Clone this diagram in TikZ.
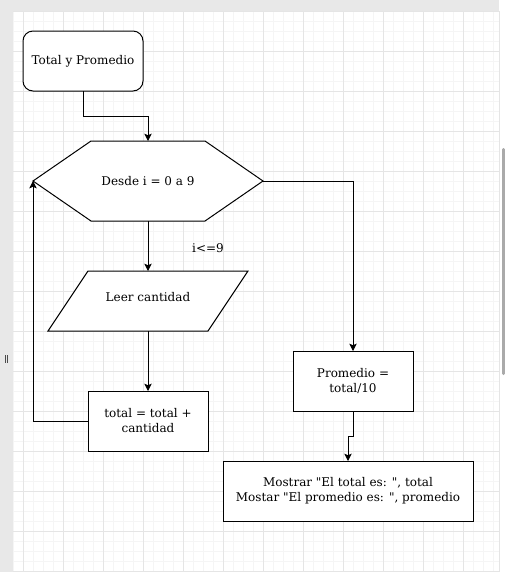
\documentclass[tikz,border=0pt]{standalone}
\usepackage{fontspec}
\setmainfont{DejaVu Serif}[Ligatures=TeXOff]
\usetikzlibrary{arrows.meta}
\definecolor{panel}{RGB}{232,232,232}
\definecolor{gridminor}{RGB}{245,245,245}
\definecolor{gridmajor}{RGB}{229,229,229}
\definecolor{thumb}{RGB}{170,170,170}
\tikzset{
  box/.style={draw=black, line width=0.75pt, fill=white, inner sep=0pt, outer sep=0pt, align=center,
    font=\fontsize{9}{11.25}\selectfont},
  ghost/.style={inner sep=0pt, outer sep=0pt, align=center, font=\fontsize{9}{11.25}\selectfont},
  outline/.style={draw=black, line width=0.75pt, fill=white},
  arr/.style={draw=black, line width=0.75pt, -{Stealth[length=5.5pt,width=5.5pt,inset=1.2pt]}},
  lbl/.style={inner sep=0pt, font=\fontsize{9}{11.25}\selectfont}
}
\begin{document}
\begin{tikzpicture}[x=0.75pt,y=-0.75pt]
\useasboundingbox (0,0) rectangle (505,572);
\fill[white] (0,0) rectangle (505,572);
% grid
\begin{scope}
\clip (13,11) rectangle (499,572);
\foreach \x in {13,23,...,493} \draw[gridminor, line width=0.75pt] (\x,11) -- (\x,572);
\foreach \y in {11.5,21.5,...,571.5} \draw[gridminor, line width=0.75pt] (13,\y) -- (499,\y);
\foreach \x in {23,63,...,463} \draw[gridmajor, line width=0.75pt] (\x,11) -- (\x,572);
\foreach \y in {11.5,51.5,...,571.5} \draw[gridmajor, line width=0.75pt] (13,\y) -- (499,\y);
\end{scope}
% panels
\fill[panel] (0,0) rectangle (13,572);
\fill[panel] (0,0) rectangle (499,11);
\draw[gridmajor, line width=0.75pt] (499.5,11) -- (499.5,572);
\fill[thumb, rounded corners=1pt] (502,148) rectangle (505,375);
\draw[black!70, line width=0.6pt] (5,355) -- (5,363) (7.5,355) -- (7.5,363);

% nodes
\node[box, rounded corners=7.5pt, minimum width=90pt, minimum height=45pt] (start) at (83,61) {Total y Promedio};

\node[ghost, minimum width=172.5pt, minimum height=60pt] (hex) at (148,181) {};
\draw[outline] (hex.west) -- ([xshift=43.5pt]hex.north west) -- ([xshift=-43.5pt]hex.north east)
  -- (hex.east) -- ([xshift=-43.5pt]hex.south east) -- ([xshift=43.5pt]hex.south west) -- cycle;
\node[ghost] (hext) at (hex.center) {Desde i = 0 a 9};

\node[ghost, minimum width=150pt, minimum height=45pt] (para) at (148,301) {};
\draw[outline] ([xshift=30pt]para.north west) -- (para.north east) -- ([xshift=-30pt]para.south east)
  -- (para.south west) -- cycle;
\node[ghost] (parat) at ([yshift=3pt]para.center) {Leer cantidad};

\node[box, minimum width=90pt, minimum height=45pt] (tot) at (148,421) {total = total +\\cantidad};
\node[box, minimum width=90pt, minimum height=45pt] (prom) at (353,381) {Promedio =\\total/10};
\node[box, minimum width=187.5pt, minimum height=45pt] (out) at (348,491)
  {Mostrar "El total es: ", total\\Mostar "El promedio es: ", promedio};

\node[lbl] (cond) at (208,248) {i<=9};

% connectors
\draw[arr] (start.south) -- ++(0,25) -| (hex.north);
\draw[arr] (hex.south) -- (para.north);
\draw[arr] (para.south) -- (tot.north);
\draw[arr] (tot.west) -| (hex.west);
\draw[arr] (hex.east) -| (prom.north);
\draw[arr] (prom.south) -- ++(0,25) -| (out.north);
\end{tikzpicture}
\end{document}
